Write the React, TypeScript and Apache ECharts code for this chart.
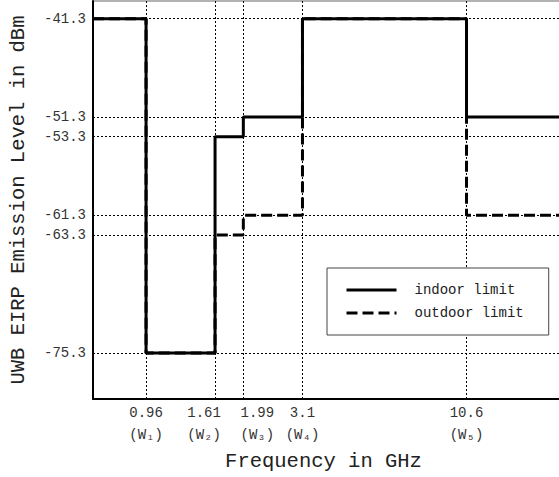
import React, { useEffect, useRef } from "react";
import * as echarts from "echarts";

// Band edge frequencies (GHz) and their labels
const freqEdges = [0.96, 1.61, 1.99, 3.1, 10.6];
const freqLabels = ["0.96", "1.61", "1.99", "3.1", "10.6"];
const bandLabels = ["(W\u2081)", "(W\u2082)", "(W\u2083)", "(W\u2084)", "(W\u2085)"];

// Level ticks (dBm)
const levelTicks = [-41.3, -51.3, -53.3, -61.3, -63.3, -75.3];

// Emission levels for each band segment (between consecutive edges)
const indoorLevels = [-41.3, -75.3, -53.3, -51.3, -41.3, -51.3];
const outdoorLevels = [-41.3, -75.3, -63.3, -61.3, -41.3, -61.3];

// Axis ranges
const X_MIN = 0.645;
const X_MAX = 25;
const Y_MIN = -80;
const Y_MAX = -39.5;

const FONT = "'Liberation Mono', 'Courier New', monospace";

// horizontal nudges of the x tick labels (px) so crowded labels don't collide
const LABEL_SHIFT = [0, -11, 14, 0, 0];

function stepPoints(levels: number[]): number[][] {
  const edges = [X_MIN, ...freqEdges, X_MAX];
  const pts: number[][] = [];
  levels.forEach((lv, i) => {
    pts.push([edges[i], lv]);
    pts.push([edges[i + 1], lv]);
  });
  return pts;
}

function nearestIndex(v: number): number {
  let idx = 0;
  let best = Infinity;
  freqEdges.forEach((f, i) => {
    const d = Math.abs(f - v);
    if (d < best) {
      best = d;
      idx = i;
    }
  });
  return idx;
}

export default function App() {
  const ref = useRef<HTMLDivElement>(null);
  useEffect(() => {
    if (!ref.current) return;
    const chart = echarts.init(ref.current, undefined, { renderer: "svg" });
    const rich: any = {};
    LABEL_SHIFT.forEach((s, i) => {
      rich["r" + i] = {
        fontFamily: FONT,
        fontSize: 14,
        color: "#333",
        lineHeight: 22,
        padding: s < 0 ? [0, -2 * s, 0, 0] : [0, 0, 0, 2 * s],
      };
    });
    const option: any = {
      animation: false,
      backgroundColor: "#fff",
      grid: {
        left: 92,
        top: 1,
        right: 59,
        bottom: 75,
        show: true,
        borderColor: "#666",
        borderWidth: 1,
        backgroundColor: "#fff",
      },
      legend: {
        data: ["indoor limit", "outdoor limit"],
        orient: "vertical",
        left: 327,
        top: 268,
        itemWidth: 50,
        itemHeight: 14,
        itemGap: 9,
        padding: [15, 25, 15, 18],
        backgroundColor: "#fff",
        borderColor: "#444",
        borderWidth: 1,
        borderRadius: 0,
        itemStyle: { opacity: 0 },
        lineStyle: { width: 3 },
        textStyle: {
          fontFamily: FONT,
          fontSize: 14,
          color: "#222",
          padding: [0, 0, 0, 13],
        },
      },
      xAxis: {
        type: "log",
        logBase: 10,
        min: X_MIN,
        max: X_MAX,
        name: "Frequency in GHz",
        nameLocation: "middle",
        nameGap: 48,
        nameTextStyle: {
          fontFamily: FONT,
          fontSize: 20.5,
          color: "#222",
          padding: [0, 27, 0, 0],
        },
        axisLine: { show: true, lineStyle: { color: "#000", width: 2 } },
        axisTick: { show: false, customValues: freqEdges },
        minorTick: { show: false },
        axisLabel: {
          customValues: freqEdges,
          fontFamily: FONT,
          fontSize: 14,
          color: "#333",
          lineHeight: 22,
          margin: 3,
          rich,
          formatter: (v: number) => {
            const i = nearestIndex(v);
            return `{r${i}|${freqLabels[i]}}\n{r${i}|${bandLabels[i]}}`;
          },
        },
        splitLine: {
          show: true,
          lineStyle: { color: "#000", width: 1, type: [2, 2] },
        },
      },
      yAxis: {
        type: "value",
        min: Y_MIN,
        max: Y_MAX,
        name: "UWB EIRP Emission Level in dBm",
        nameLocation: "middle",
        nameGap: 64,
        nameTextStyle: {
          fontFamily: FONT,
          fontSize: 20.5,
          color: "#222",
        },
        axisLine: { show: true, lineStyle: { color: "#000", width: 2 } },
        axisTick: { show: false, customValues: levelTicks },
        axisLabel: {
          customValues: levelTicks,
          fontFamily: FONT,
          fontSize: 14,
          color: "#333",
          margin: 7,
          formatter: (v: number) => v.toFixed(1),
        },
        splitLine: {
          show: true,
          lineStyle: { color: "#000", width: 1, type: [2, 2] },
        },
      },
      series: [
        {
          name: "outdoor limit",
          type: "line",
          symbol: "none",
          data: stepPoints(outdoorLevels),
          lineStyle: { color: "#000", width: 3, type: [11, 5] },
          itemStyle: { color: "#000" },
          z: 2,
        },
        {
          name: "indoor limit",
          type: "line",
          symbol: "none",
          data: stepPoints(indoorLevels),
          lineStyle: { color: "#000", width: 3, type: "solid" },
          itemStyle: { color: "#000" },
          z: 3,
        },
      ],
    };
    chart.setOption(option);
    return () => chart.dispose();
  }, []);
  return (
    <div
      style={{
        position: "fixed",
        left: 0,
        top: 0,
        width: 559,
        height: 477,
        overflow: "hidden",
        background: "#fff",
      }}
    >
      <div ref={ref} style={{ width: 640, height: 477 }} />
    </div>
  );
}
